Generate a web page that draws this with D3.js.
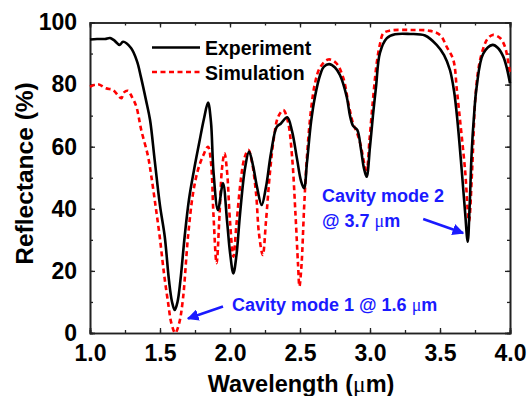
<!DOCTYPE html>
<html>
<head>
<meta charset="utf-8">
<script src="https://cdn.jsdelivr.net/npm/d3@7"></script>
<style>
  body { margin: 0; background: #fff; }
  svg { display: block; }
  .axis text { font-family: "Liberation Sans", Arial, sans-serif; font-weight: bold; font-size: 23px; fill: #000; }
  .axis path, .axis line { stroke: #222; }
</style>
</head>
<body>
<div id="chart"></div>
<script>
// wavelength (um) and reflectance (%)
const expWavelength = [1.0, 1.05, 1.107, 1.143, 1.171, 1.212, 1.236, 1.293, 1.336, 1.364, 1.40, 1.429, 1.462, 1.50, 1.534, 1.564, 1.586, 1.605, 1.625, 1.646, 1.676, 1.707, 1.743, 1.779, 1.814, 1.843, 1.864, 1.882, 1.914, 1.95, 1.979, 2.0, 2.024, 2.046, 2.071, 2.107, 2.136, 2.164, 2.193, 2.226, 2.257, 2.293, 2.334, 2.364, 2.409, 2.443, 2.479, 2.507, 2.529, 2.55, 2.579, 2.607, 2.643, 2.671, 2.709, 2.75, 2.786, 2.834, 2.857, 2.879, 2.909, 2.936, 2.957, 2.976, 3.0, 3.021, 3.043, 3.071, 3.119, 3.179, 3.286, 3.393, 3.476, 3.529, 3.571, 3.6, 3.624, 3.655, 3.679, 3.698, 3.711, 3.726, 3.743, 3.762, 3.809, 3.876, 3.914, 3.952, 3.979, 4.0];
const expReflectance = [94.5, 94.7, 94.7, 95.0, 94.3, 92.8, 93.8, 91.8, 87.5, 82.4, 75, 68.6, 55.7, 41, 31, 17, 10, 7.4, 10, 17, 31, 43, 52.5, 61, 69, 74.2, 68, 52, 39.6, 48.2, 36, 26, 19.2, 25, 38, 53, 58.4, 54, 47, 41.2, 47, 58, 66.4, 67.5, 69.5, 65, 56, 49, 46.6, 55, 68, 76.1, 83, 85.8, 86.6, 85.5, 83, 76, 70, 66.7, 65.4, 59, 53, 50.3, 60, 70, 79.3, 90.2, 94.9, 96.2, 96.3, 95.8, 92.8, 89.5, 84.7, 78, 68.6, 52.5, 39, 29.4, 40, 57.9, 70, 79.3, 90, 92.8, 91.8, 89, 85, 80.4];

const simWavelength = [1.0, 1.057, 1.114, 1.164, 1.2, 1.224, 1.243, 1.271, 1.3, 1.331, 1.366, 1.414, 1.438, 1.468, 1.498, 1.529, 1.557, 1.582, 1.609, 1.636, 1.664, 1.7, 1.736, 1.771, 1.807, 1.843, 1.864, 1.882, 1.904, 1.925, 1.943, 1.961, 1.979, 2.0, 2.024, 2.046, 2.079, 2.104, 2.131, 2.157, 2.186, 2.207, 2.234, 2.257, 2.286, 2.314, 2.343, 2.381, 2.414, 2.443, 2.468, 2.486, 2.496, 2.511, 2.529, 2.55, 2.579, 2.607, 2.643, 2.702, 2.757, 2.807, 2.85, 2.879, 2.907, 2.936, 2.957, 2.976, 2.996, 3.021, 3.048, 3.071, 3.095, 3.143, 3.286, 3.429, 3.5, 3.55, 3.595, 3.621, 3.643, 3.679, 3.707, 3.729, 3.75, 3.771, 3.798, 3.836, 3.876, 3.929, 3.964, 4.0];
const simReflectance = [79.3, 80.1, 78.8, 78.3, 76.5, 75.6, 77.5, 78, 76, 72.9, 65.4, 57, 50.5, 41, 31, 19, 10, 3, 0, 3, 11, 31, 45, 52.5, 57, 60, 55, 38, 22.5, 38, 53, 57.9, 52, 36, 24.6, 35, 50, 56.5, 59, 55, 45, 32, 25.1, 36, 52, 63, 69.5, 71.8, 68, 57, 38, 22, 15, 22, 40, 57, 72, 80.4, 85.5, 88.1, 87, 82.5, 73, 67.5, 64.5, 60, 55, 52.5, 62, 75, 86.9, 93, 96.5, 97.4, 97.6, 97.3, 96, 92, 88, 78, 68.6, 52.5, 36, 52, 74, 84, 90, 94.5, 96, 95, 92.2, 83.6];

const xTicks = [1.0, 1.5, 2.0, 2.5, 3.0, 3.5, 4.0];
const yTicks = [0, 20, 40, 60, 80, 100];

const W = 529, H = 396;
const margin = { top: 22.5, right: 19, bottom: 63, left: 90 };
const width = W - margin.left - margin.right;
const height = H - margin.top - margin.bottom;

const svg = d3.select("#chart").append("svg")
  .attr("width", W).attr("height", H);
const g = svg.append("g")
  .attr("transform", `translate(${margin.left},${margin.top})`);

const x = d3.scaleLinear().domain([1, 4]).range([0, width]);
const y = d3.scaleLinear().domain([0, 100]).range([height, 0]);

// minor ticks (inside, all four sides)
const minorX = d3.range(1, 4.001, 0.25);
const minorY = d3.range(0, 100.1, 10);

function noLabels(sel) { sel.selectAll("text").remove(); }

g.append("g").attr("class", "axis")
  .attr("transform", `translate(0,${height})`)
  .call(d3.axisBottom(x).tickValues(minorX).tickSize(-3).tickFormat(""))
  .call(noLabels);
g.append("g").attr("class", "axis")
  .call(d3.axisTop(x).tickValues(minorX).tickSize(-3).tickFormat(""))
  .call(noLabels);
g.append("g").attr("class", "axis")
  .call(d3.axisLeft(y).tickValues(minorY).tickSize(-3).tickFormat(""))
  .call(noLabels);
g.append("g").attr("class", "axis")
  .attr("transform", `translate(${width},0)`)
  .call(d3.axisRight(y).tickValues(minorY).tickSize(-3).tickFormat(""))
  .call(noLabels);

// major ticks with labels
const xAxis = g.append("g").attr("class", "axis")
  .attr("transform", `translate(0,${height})`)
  .call(d3.axisBottom(x).tickValues(xTicks).tickSize(-5).tickPadding(12).tickFormat(d3.format(".1f")));
xAxis.selectAll("text").attr("dy", "0.71em");
g.append("g").attr("class", "axis")
  .call(d3.axisTop(x).tickValues(xTicks).tickSize(-5).tickFormat(""))
  .call(noLabels);
g.append("g").attr("class", "axis")
  .call(d3.axisLeft(y).tickValues(yTicks).tickSize(-5).tickPadding(13).tickFormat(d3.format("d")));
g.append("g").attr("class", "axis")
  .attr("transform", `translate(${width},0)`)
  .call(d3.axisRight(y).tickValues(yTicks).tickSize(-5).tickFormat(""))
  .call(noLabels);

g.selectAll(".axis .domain").attr("stroke-width", 1.6);
g.selectAll(".axis line").attr("stroke-width", 1.3);

const line = d3.line()
  .x(d => x(d[0]))
  .y(d => y(d[1]))
  .curve(d3.curveCatmullRom.alpha(0.5));

const simData = simWavelength.map((w, i) => [w, simReflectance[i]]);
const expData = expWavelength.map((w, i) => [w, expReflectance[i]]);

g.append("path").datum(simData)
  .attr("fill", "none")
  .attr("stroke", "#ff0000")
  .attr("stroke-width", 2.6)
  .attr("stroke-dasharray", "5,3.5")
  .attr("d", line);

g.append("path").datum(expData)
  .attr("fill", "none")
  .attr("stroke", "#000")
  .attr("stroke-width", 2.6)
  .attr("d", line);

// legend
const legend = svg.append("g")
  .style("font-family", "Liberation Sans, Arial, sans-serif")
  .style("font-weight", "bold")
  .style("font-size", "19.5px");
legend.append("line").attr("x1", 152).attr("x2", 200).attr("y1", 47.5).attr("y2", 47.5)
  .attr("stroke", "#000").attr("stroke-width", 2.6);
legend.append("text").attr("x", 205).attr("y", 54.5).text("Experiment");
legend.append("line").attr("x1", 152).attr("x2", 200).attr("y1", 72).attr("y2", 72)
  .attr("stroke", "#ff0000").attr("stroke-width", 2.6).attr("stroke-dasharray", "5,3.5");
legend.append("text").attr("x", 205).attr("y", 79.5).text("Simulation");

// axis titles
const xLabel = svg.append("text")
  .attr("x", 301).attr("y", 391.5)
  .attr("text-anchor", "middle")
  .style("font-family", "Liberation Sans, Arial, sans-serif")
  .style("font-weight", "bold")
  .style("font-size", "23.5px");
xLabel.append("tspan").text("Wavelength (");
xLabel.append("tspan").style("font-family", "Liberation Serif, serif").style("font-weight", "normal").text("\u03bc");
xLabel.append("tspan").text("m)");

svg.append("text")
  .attr("transform", "translate(33,173.5) rotate(-90)")
  .attr("text-anchor", "middle")
  .style("font-family", "Liberation Sans, Arial, sans-serif")
  .style("font-weight", "bold")
  .style("font-size", "24.5px")
  .text("Reflectance (%)");

// annotations
const blue = "#1a1aff";
svg.append("defs").append("marker")
  .attr("id", "arrow")
  .attr("viewBox", "0 0 10 10")
  .attr("refX", 9).attr("refY", 5)
  .attr("markerWidth", 4.5).attr("markerHeight", 4.5)
  .attr("orient", "auto")
  .append("path").attr("d", "M0,0 L10,5 L0,10 Z").attr("fill", blue);

const ann = svg.append("g")
  .style("font-family", "Liberation Sans, Arial, sans-serif")
  .style("font-weight", "bold")
  .style("font-size", "18px")
  .attr("fill", blue);

function muText(sel, before, after) {
  sel.append("tspan").text(before);
  sel.append("tspan").style("font-family", "Liberation Serif, serif").style("font-weight", "normal").text("\u03bc");
  sel.append("tspan").text(after);
}

muText(ann.append("text").attr("x", 232).attr("y", 310.5), "Cavity mode 1 @ 1.6 ", "m");
ann.append("text").attr("x", 322).attr("y", 201.5).text("Cavity mode 2");
muText(ann.append("text").attr("x", 322).attr("y", 226.5), "@ 3.7 ", "m");

ann.append("line")
  .attr("x1", x(1.95) + margin.left).attr("y1", 306.5)
  .attr("x2", x(1.70) + margin.left).attr("y2", 318.5)
  .attr("stroke", blue).attr("stroke-width", 2.6)
  .attr("marker-end", "url(#arrow)");
ann.append("line")
  .attr("x1", x(3.38) + margin.left).attr("y1", 219)
  .attr("x2", x(3.665) + margin.left).attr("y2", 233)
  .attr("stroke", blue).attr("stroke-width", 2.6)
  .attr("marker-end", "url(#arrow)");
</script>
</body>
</html>
